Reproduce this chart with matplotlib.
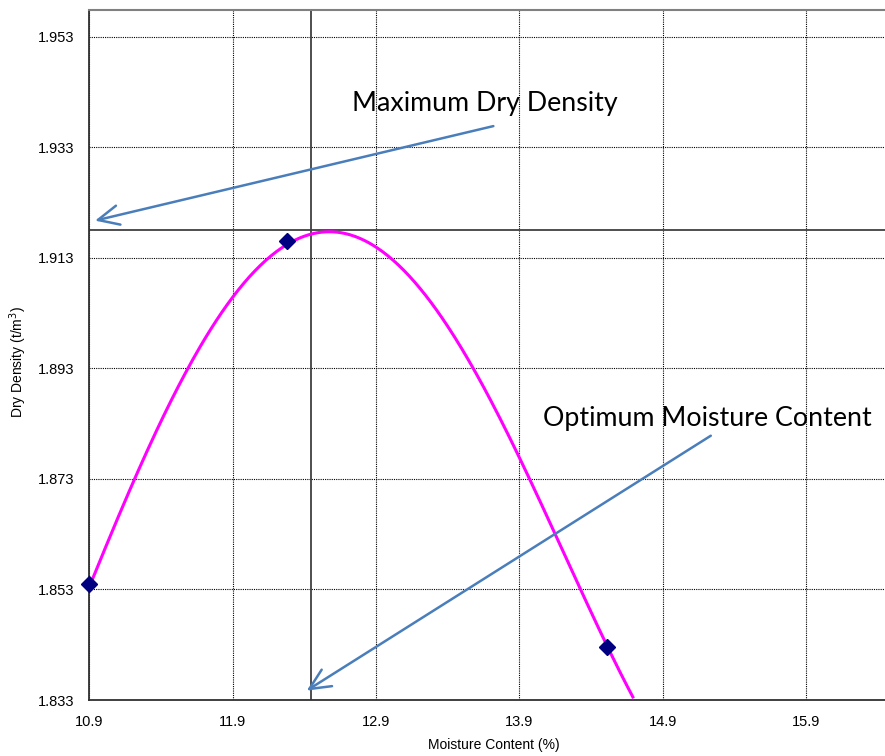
import matplotlib
matplotlib.use("Agg")
import matplotlib.pyplot as plt
import numpy as np

# compaction test points (moisture %, dry density t/m3)
moisture = [10.9, 12.28, 14.515]
density = [1.854, 1.9161, 1.8426]

# points read along the compaction curve of the original chart
curve_x = [10.900, 11.219, 11.405, 11.593, 11.901, 12.021, 12.138, 12.282,
           12.452, 12.535, 12.675, 12.789, 12.906, 13.068, 13.185, 13.301,
           13.557, 13.743, 13.899, 13.976, 14.157, 14.343, 14.515, 14.692]
curve_y = [1.8540, 1.8728, 1.8829, 1.8929, 1.9057, 1.9101, 1.9129, 1.9161,
           1.9177, 1.9182, 1.9176, 1.9165, 1.9145, 1.9108, 1.9075, 1.9042,
           1.8930, 1.8855, 1.8770, 1.8729, 1.8630, 1.8529, 1.8426, 1.8330]

mdd = 1.918    # maximum dry density
omc = 12.45    # optimum moisture content

x_ticks = [10.9, 11.9, 12.9, 13.9, 14.9, 15.9]
y_ticks = [1.833, 1.853, 1.873, 1.893, 1.913, 1.933, 1.953]

arrow_color = "#4a7ebb"

fig = plt.figure(figsize=(8.85, 7.56), dpi=100)
# axes runs past the right edge, like the cropped original
ax = fig.add_axes([89.3 / 885, 56 / 756, 860 / 885, 690 / 756])
ax.set_xlim(10.9, 16.9)
ax.set_ylim(1.833, 1.9578)

ax.set_xticks(x_ticks)
ax.set_xticklabels([f"{v:.1f}" for v in x_ticks])
ax.set_yticks(y_ticks)
ax.set_yticklabels([f"{v:.3f}" for v in y_ticks])
ax.tick_params(length=0, labelsize=10.5, pad=11)
for lab in ax.get_xticklabels() + ax.get_yticklabels():
    lab.set_family("Liberation Sans")

ax.grid(True, color="black", linestyle=(0, (1, 1)), linewidth=0.8)
ax.set_axisbelow(True)

ax.spines["right"].set_visible(False)
ax.spines["top"].set_color("#808080")
ax.spines["top"].set_linewidth(1.5)
for s in ("left", "bottom"):
    ax.spines[s].set_color("#303030")
    ax.spines[s].set_linewidth(1.3)

ax.axhline(mdd, color="#404040", linewidth=1.3, zorder=2)
ax.axvline(omc, color="#404040", linewidth=1.3, zorder=2)

# polynomial trendline through the read curve, as in the spreadsheet chart
coef = np.polyfit(curve_x, curve_y, 4)
xs = np.linspace(curve_x[0], curve_x[-1], 300)
ax.plot(xs, np.polyval(coef, xs), color="#ff00ff", linewidth=2.2, zorder=3)
ax.plot(moisture, density, linestyle="none", marker="D", markersize=8.5,
        color="#000080", zorder=4, clip_on=False)

ax.set_xlabel("Moisture Content (%)", family="Liberation Sans", fontsize=10)
ax.set_ylabel("Dry Density (t/m$^3$)", family="Liberation Sans", fontsize=10)
ax.xaxis.set_label_coords(405 / 860, -38 / 690)
ax.yaxis.set_label_coords(-60 / 860, 0.49)

arrow = dict(arrowstyle="->,head_length=0.75,head_width=0.35",
             color=arrow_color, linewidth=1.8, shrinkA=0, shrinkB=0,
             mutation_scale=20)
ax.annotate("", xy=(10.94, 1.9197), xytext=(13.719, 1.9368),
            arrowprops=arrow)
ax.annotate("", xy=(12.417, 1.8347), xytext=(15.236, 1.8808),
            arrowprops=arrow)

ax.text(13.661, 1.9408, "Maximum Dry Density", fontsize=19.3,
        family="Lato", ha="center", va="center")
ax.text(15.21, 1.8840, "Optimum Moisture Content", fontsize=19.3,
        family="Lato", ha="center", va="center")

fig.savefig("out.png", dpi=100)
